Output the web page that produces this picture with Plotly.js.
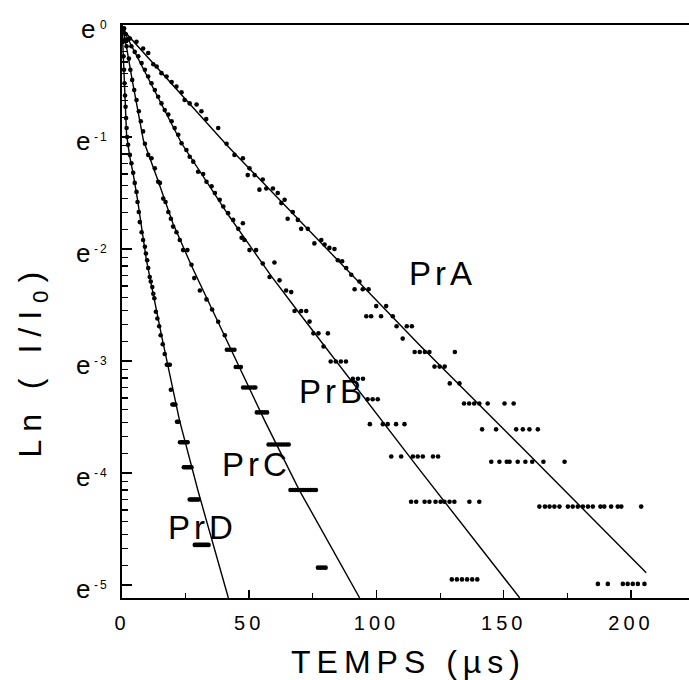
<!DOCTYPE html>
<html>
<head>
<meta charset="utf-8">
<script src="https://cdn.plot.ly/plotly-3.0.1.min.js"></script>
<style>
  html, body { margin: 0; padding: 0; background: #ffffff; }
  #chart { width: 689px; height: 680px; }
  .xtick text { letter-spacing: 4px; }
  .annotation[data-index="0"] .annotation-text { letter-spacing: 6px; }
  .annotation[data-index="1"] .annotation-text { letter-spacing: 8px; }
  .annotation[data-index="2"] .annotation-text,
  .annotation[data-index="3"] .annotation-text,
  .annotation[data-index="4"] .annotation-text,
  .annotation[data-index="5"] .annotation-text { letter-spacing: 4px; }
  .annotation[data-index="7"] .annotation-text,
  .annotation[data-index="9"] .annotation-text,
  .annotation[data-index="11"] .annotation-text,
  .annotation[data-index="13"] .annotation-text,
  .annotation[data-index="15"] .annotation-text,
  .annotation[data-index="17"] .annotation-text { letter-spacing: 2px; }
</style>
</head>
<body>
<div id="chart"></div>
<script>
// Measured decays: time (µs) and ln(I/I0)
const prA_t  = [0.8,3.1,5.7,8.3,10.3,12.3,13.6,15.5,17.5,19.5,21.4,23.4,24.6,26.6,29.3,31.2,33.1,37.8,41.1,44.2,47.5,49.4,50.1,52.1,54.0,55.3,56.7,59.3,61.2,62.6,63.9,65.1,67.1,69.1,70.4,73.0,75.6,78.3,79.6,81.5,83.5,84.8,86.5,88.1,90.1,91.4,93.3,94.6,96.0,96.9,97.9,99.9,101.8,103.8,106.4,107.9,110.3,111.9,113.9,115.0,117.0,119.0,120.8,122.8,124.8,126.8,128.8,130.8,132.6,134.4,136.4,138.4,140.4,141.5,143.7,145.1,147.0,148.3,150.3,151.2,152.3,153.9,154.9,155.5,157.5,158.5,160.1,161.2,163.4,164.0,165.6,166.2,168.0,169.9,171.9,173.9,175.2,177.1,179.1,181.1,183.1,185.0,187.0,188.0,189.5,190.9,192.2,194.8,196.2,196.8,198.7,200.7,202.7,204.0,205.3];
const prA_ln = [-0.03,-0.12,-0.15,-0.21,-0.25,-0.35,-0.37,-0.43,-0.46,-0.51,-0.55,-0.60,-0.67,-0.70,-0.71,-0.77,-0.84,-0.92,-1.06,-1.16,-1.19,-1.34,-1.28,-1.34,-1.47,-1.38,-1.46,-1.46,-1.50,-1.59,-1.56,-1.73,-1.67,-1.74,-1.82,-1.82,-1.95,-1.92,-1.96,-1.99,-2.00,-2.10,-2.11,-2.17,-2.23,-2.36,-2.29,-2.36,-2.60,-2.36,-2.60,-2.51,-2.60,-2.51,-2.60,-2.69,-2.80,-2.69,-2.69,-2.92,-2.92,-2.92,-2.92,-3.05,-3.05,-3.05,-3.20,-2.92,-3.20,-3.38,-3.38,-3.38,-3.38,-3.61,-3.38,-3.90,-3.61,-3.90,-3.38,-3.90,-3.90,-3.38,-3.61,-3.90,-3.61,-3.90,-3.61,-3.90,-3.61,-4.30,-3.90,-4.30,-4.30,-4.30,-4.30,-3.90,-4.30,-4.30,-4.30,-4.30,-4.30,-4.30,-4.99,-4.30,-4.30,-4.99,-4.30,-4.30,-4.30,-4.99,-4.99,-4.99,-4.99,-4.30,-4.99];

const prB_t  = [0.6,1.4,2.4,3.7,5.0,6.4,7.7,9.0,10.3,11.6,12.9,14.2,15.5,16.8,18.2,19.5,20.7,22.1,23.4,25.3,26.6,28.0,29.9,31.9,33.2,35.2,36.5,38.4,39.8,41.7,43.7,45.7,47.0,47.5,48.1,50.1,52.7,55.3,58.0,59.9,61.9,64.5,66.5,67.8,70.4,72.4,73.7,75.2,77.2,79.2,80.9,82.0,84.0,86.0,88.0,90.7,92.7,94.7,96.5,97.4,98.5,100.5,102.5,104.4,105.8,107.7,109.7,111.0,113.6,114.3,115.6,116.2,118.2,118.9,120.8,122.2,123.2,124.2,125.2,126.7,128.7,129.6,130.6,131.6,133.6,135.6,136.5,137.6,139.6,140.4];
const prB_ln = [-0.04,-0.08,-0.13,-0.19,-0.24,-0.28,-0.34,-0.40,-0.46,-0.52,-0.58,-0.64,-0.70,-0.76,-0.80,-0.86,-0.92,-0.98,-1.056,-1.116,-1.176,-1.22,-1.31,-1.33,-1.40,-1.44,-1.50,-1.56,-1.62,-1.68,-1.74,-1.82,-1.90,-1.77,-1.92,-2.01,-2.01,-2.13,-2.25,-2.12,-2.28,-2.37,-2.385,-2.553,-2.553,-2.553,-2.648,-2.753,-2.753,-2.870,-2.753,-3.004,-3.004,-3.004,-3.004,-3.158,-3.158,-3.158,-3.341,-3.564,-3.341,-3.341,-3.564,-3.564,-3.852,-3.564,-3.852,-3.564,-4.257,-3.852,-4.257,-3.852,-3.852,-4.257,-4.257,-3.852,-4.257,-3.852,-4.257,-4.257,-4.257,-4.95,-4.257,-4.95,-4.95,-4.95,-4.257,-4.95,-4.95,-4.257];

const prC_t  = [0.5,1.2,1.8,2.7,3.3,4.0,4.8,5.7,6.6,7.4,8.3,9.0,10.3,11.6,12.9,14.2,14.9,16.2,17.1,18.2,19.2,20.1,21.4,22.7,24.0,25.7,27.3,28.4,30.6,33.2,35.4,37.8,40.4,41.2,42.2,43.2,44.2,44.7,45.7,46.7,47.6,48.6,49.6,50.6,51.6,52.4,53.0,54.0,55.0,56.0,57.0,57.6,58.6,59.6,60.6,61.6,62.6,63.6,64.6,65.5,66.2,67.2,68.2,69.2,70.2,71.2,72.2,73.2,74.2,75.2,76.2,77.0,78.0,79.0,80.0];
const prC_ln = [-0.06,-0.13,-0.19,-0.30,-0.40,-0.49,-0.58,-0.67,-0.77,-0.86,-0.95,-1.06,-1.16,-1.19,-1.28,-1.40,-1.41,-1.55,-1.58,-1.67,-1.73,-1.80,-1.85,-1.92,-2.01,-2.01,-2.14,-2.26,-2.37,-2.45,-2.54,-2.65,-2.77,-2.899,-2.899,-2.899,-2.899,-3.053,-3.053,-3.053,-3.236,-3.236,-3.236,-3.236,-3.236,-3.236,-3.459,-3.459,-3.459,-3.459,-3.459,-3.746,-3.746,-3.746,-3.746,-3.746,-3.746,-3.746,-3.746,-3.746,-4.152,-4.152,-4.152,-4.152,-4.152,-4.152,-4.152,-4.152,-4.152,-4.152,-4.152,-4.845,-4.845,-4.845,-4.845];

const prD_t  = [0.2,0.4,0.6,0.8,1.0,1.2,1.4,1.6,1.8,2.0,2.4,3.1,3.7,4.4,5.0,5.7,6.1,6.6,7.0,7.7,8.3,9.0,9.4,9.9,10.3,10.9,11.3,11.9,12.3,12.7,13.3,13.9,14.6,15.2,16.0,16.8,17.6,18.2,18.8,19.2,19.8,20.4,21.0,21.6,22.2,22.8,23.4,24.0,24.6,25.2,25.8,24.3,24.9,25.5,26.1,26.7,27.3,26.6,27.2,27.8,28.4,29.0,29.6,30.1,28.6,29.2,29.8,30.4,31.0,31.6,32.2,32.8,33.4,34.0];
const prD_ln = [-0.05,-0.15,-0.28,-0.40,-0.52,-0.63,-0.73,-0.83,-0.92,-1.00,-1.07,-1.16,-1.235,-1.32,-1.41,-1.49,-1.58,-1.67,-1.76,-1.85,-1.92,-1.98,-2.04,-2.10,-2.17,-2.25,-2.29,-2.34,-2.40,-2.44,-2.56,-2.62,-2.69,-2.77,-2.85,-2.937,-3.033,-3.033,-3.033,-3.256,-3.389,-3.389,-3.389,-3.543,-3.543,-3.726,-3.726,-3.726,-3.726,-3.726,-3.726,-3.949,-3.949,-3.949,-3.949,-3.949,-3.949,-4.236,-4.236,-4.236,-4.236,-4.236,-4.236,-4.236,-4.642,-4.642,-4.642,-4.642,-4.642,-4.642,-4.642,-4.642,-4.642,-4.642];

// Fitted decay curves (vertices)
const fitA_t  = [0, 1.1, 41.5, 91, 116.9, 156.2, 206];
const fitA_ln = [-0.02, -0.06, -1.08, -2.25, -2.857, -3.75, -4.89];
const fitB_t  = [0, 10, 23.4, 42.2, 58.6, 69.7, 116.9, 156.3];
const fitB_ln = [-0.02, -0.46, -1.056, -1.71, -2.24, -2.574, -3.97, -5.116];
const fitC_t  = [0, 1.8, 4.0, 8.4, 14, 20, 27.3, 56, 69.6, 93.4];
const fitC_ln = [0, -0.2, -0.49, -1.03, -1.38, -1.77, -2.15, -3.53, -4.15, -5.116];
const fitD_t  = [0, 0.5, 1.0, 1.8, 3, 4.4, 6.1, 9.6, 15.6, 22.6, 30, 41.8];
const fitD_ln = [0, -0.3, -0.58, -0.98, -1.17, -1.33, -1.56, -2.1, -2.78, -3.53, -4.17, -5.116];

const seriesNames = ['PrA', 'PrB', 'PrC', 'PrD'];
const xTickVals = [0, 50, 100, 150, 200];
const xTickText = ['0', '50', '100', '150', '200'];
const xMinorVals = [25, 75, 125, 175];
const yTickVals = [0, -1, -2, -3, -4, -5];
const yTickPow  = ['0', '-1', '-2', '-3', '-4', '-5'];

// minor ticks of the ln scale: 8 linear steps between consecutive powers of e
const yMinorVals = [];
for (let n = 0; n < 5; n++) {
  const lo = Math.exp(-(n + 1)), hi = Math.exp(-n);
  for (let k = 1; k <= 8; k++) yMinorVals.push(Math.log(lo + k * (hi - lo) / 9));
}

const FONT = 'Liberation Sans, Arial, Helvetica, sans-serif';

const pts = [[prA_t, prA_ln], [prB_t, prB_ln], [prC_t, prC_ln], [prD_t, prD_ln]];
const fits = [[fitA_t, fitA_ln], [fitB_t, fitB_ln], [fitC_t, fitC_ln], [fitD_t, fitD_ln]];

const traces = [];
pts.forEach((p, i) => traces.push({
  x: p[0], y: p[1], name: seriesNames[i], type: 'scatter', mode: 'markers',
  marker: { color: '#000', size: 4.6 }
}));
fits.forEach((f, i) => traces.push({
  x: f[0], y: f[1], name: seriesNames[i] + ' fit', type: 'scatter', mode: 'lines',
  line: { color: '#000', width: 1.4 }
}));

const annotations = [
  { text: 'TEMPS (µs)', xref: 'paper', yref: 'paper', x: 0.505, y: -0.112, xanchor: 'center', yanchor: 'middle', showarrow: false, font: { family: FONT, size: 32, color: '#000' } },
  { text: 'Ln ( I/I<sub>0</sub>)', xref: 'paper', yref: 'paper', x: -0.158, y: 0.415, xanchor: 'center', yanchor: 'middle', textangle: -90, showarrow: false, font: { family: FONT, size: 32, color: '#000' } },
  { text: seriesNames[0], xref: 'x', yref: 'y', x: 125.8, y: -2.22, showarrow: false, font: { family: FONT, size: 33, color: '#000' } },
  { text: seriesNames[1], xref: 'x', yref: 'y', x: 82.6, y: -3.27, showarrow: false, font: { family: FONT, size: 33, color: '#000' } },
  { text: seriesNames[2], xref: 'x', yref: 'y', x: 53.0, y: -3.92, showarrow: false, font: { family: FONT, size: 33, color: '#000' } },
  { text: seriesNames[3], xref: 'x', yref: 'y', x: 31.8, y: -4.49, showarrow: false, font: { family: FONT, size: 33, color: '#000' } }
];

// y tick labels: "e" with a small exponent at each major tick
yTickVals.forEach((v, i) => {
  const dx = (i === 0) ? 5 : 0;
  annotations.push({ text: 'e', xref: 'paper', yref: 'y', x: 0, y: v, xanchor: 'right', yanchor: 'middle',
    xshift: -30 + dx, yshift: -4, showarrow: false, font: { family: FONT, size: 26, color: '#000' } });
  annotations.push({ text: yTickPow[i], xref: 'paper', yref: 'y', x: 0, y: v, xanchor: 'left', yanchor: 'middle',
    xshift: -28 + dx, yshift: 0, showarrow: false, font: { family: FONT, size: 12, color: '#000' } });
});

const layout = {
  width: 689, height: 680,
  margin: { l: 122, r: 0, t: 25, b: 82 },
  paper_bgcolor: '#fff', plot_bgcolor: '#fff',
  showlegend: false,
  font: { family: FONT, color: '#000' },
  xaxis: {
    range: [0, 222.8], showgrid: false, zeroline: false,
    showline: true, linecolor: '#000', linewidth: 2, mirror: true,
    tickmode: 'array', tickvals: xTickVals, ticktext: xTickText,
    ticks: 'inside', ticklen: 8, tickwidth: 1.5, tickcolor: '#000',
    tickfont: { family: FONT, size: 20, color: '#000' },
    ticklabelstandoff: 6,
    minor: { tickmode: 'array', tickvals: xMinorVals, ticks: 'inside', ticklen: 5, tickwidth: 1.2, tickcolor: '#000', showgrid: false }
  },
  yaxis: {
    range: [-5.116, 0], showgrid: false, zeroline: false,
    showline: true, linecolor: '#000', linewidth: 2,
    tickmode: 'array', tickvals: yTickVals, showticklabels: false,
    ticks: 'inside', ticklen: 10, tickwidth: 1.5, tickcolor: '#000',
    minor: { tickmode: 'array', tickvals: yMinorVals, ticks: 'inside', ticklen: 6, tickwidth: 1.2, tickcolor: '#000', showgrid: false }
  },
  annotations: annotations
};

Plotly.newPlot('chart', traces, layout, { staticPlot: true, displayModeBar: false });
</script>
</body>
</html>
